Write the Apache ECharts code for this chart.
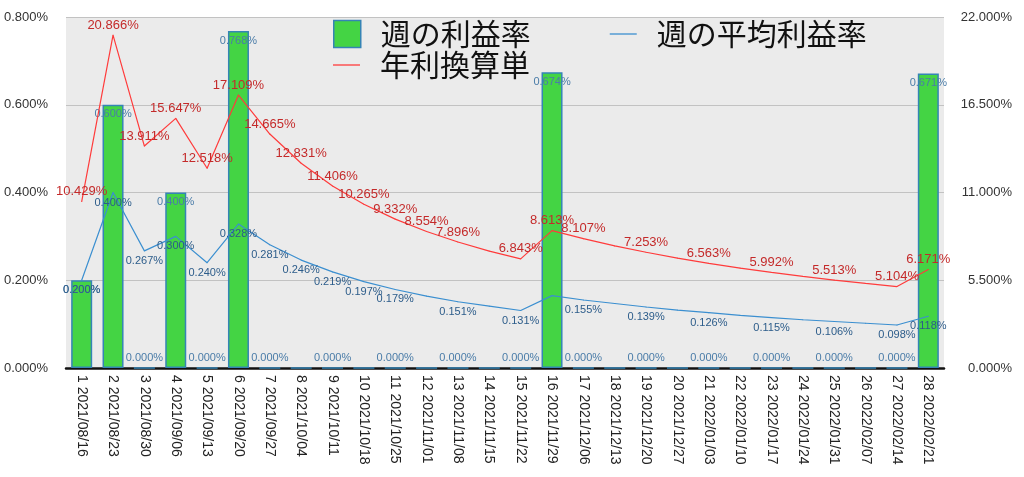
<!DOCTYPE html>
<html>
<head>
<meta charset="utf-8">
<script src="https://cdn.jsdelivr.net/npm/echarts@6/dist/echarts.min.js"></script>
<style>
html,body{margin:0;padding:0;background:#fff;}
#chart{width:1024px;height:477px;}
</style>
</head>
<body>
<div id="chart"></div>
<script>
var categories = ['1 2021/08/16','2 2021/08/23','3 2021/08/30','4 2021/09/06','5 2021/09/13','6 2021/09/20','7 2021/09/27','8 2021/10/04','9 2021/10/11','10 2021/10/18','11 2021/10/25','12 2021/11/01','13 2021/11/08','14 2021/11/15','15 2021/11/22','16 2021/11/29','17 2021/12/06','18 2021/12/13','19 2021/12/20','20 2021/12/27','21 2022/01/03','22 2022/01/10','23 2022/01/17','24 2022/01/24','25 2022/01/31','26 2022/02/07','27 2022/02/14','28 2022/02/21'];
var weeklyRate = [0.200,0.600,0,0.400,0,0.768,0,0,0,0,0,0,0,0,0,0.674,0,0,0,0,0,0,0,0,0,0,0,0.671];
var weeklyAvg = [0.200,0.400,0.267,0.300,0.240,0.328,0.281,0.246,0.219,0.197,0.179,0.164,0.151,0.141,0.131,0.165,0.155,0.147,0.139,0.132,0.126,0.120,0.115,0.110,0.106,0.102,0.098,0.118];
var annualRate = [10.429,20.866,13.911,15.647,12.518,17.109,14.665,12.831,11.406,10.265,9.332,8.554,7.896,7.330,6.843,8.613,8.107,7.650,7.253,6.890,6.563,6.260,5.992,5.740,5.513,5.300,5.104,6.171];
var leftTicks = [0, 0.2, 0.4, 0.6, 0.8];
var rightTicks = [0, 5.5, 11, 16.5, 22];
// categories (1-based) whose value labels are not shown in the reference
var barLabelHidden = [8,10,12,14,18,20,22,24,26];
var avgLabelHidden = [12,14,16,18,20,22,24,26];
var annualLabelHidden = [14,18,20,22,24,26];

var FONT = '"Liberation Sans", Arial, Helvetica, sans-serif';
var CJK = '"Noto Sans CJK JP", "Noto Sans CJK SC", sans-serif';
function pct(v){ return v.toFixed(3) + '%'; }
var LINE_ICON = 'path://M0,0L27,0L27,1.3L0,1.3Z';

var barData = weeklyRate.map(function(v, i){
  var show = barLabelHidden.indexOf(i+1) < 0;
  return {value: v, label: {show: show, position: v > 0 ? 'insideTop' : 'top', distance: 4}};
});
var avgData = weeklyAvg.map(function(v, i){
  return {value: v, label: {show: avgLabelHidden.indexOf(i+1) < 0}};
});
var annualData = annualRate.map(function(v, i){
  return {value: v, label: {show: annualLabelHidden.indexOf(i+1) < 0}};
});

var legendText = {fontSize: 30, lineHeight: 30, color: '#111', fontFamily: CJK, padding: [0, 0, 0, 15]};
var chart = echarts.init(document.getElementById('chart'), null, {renderer: 'canvas'});
chart.setOption({
  animation: false,
  backgroundColor: '#ffffff',
  grid: {left: 66, right: 80, top: 17, bottom: 109, show: true, backgroundColor: '#ebebeb', borderWidth: 0},
  legend: [{
    data: [
      {name: '週の利益率', icon: 'rect', itemStyle: {borderColor: '#3584b5', borderWidth: 1.5}},
      {name: '週の平均利益率', icon: LINE_ICON}
    ],
    left: 333, top: 19, padding: 0, itemGap: 79, itemWidth: 27, itemHeight: 27,
    textStyle: legendText
  },{
    data: [{name: '年利換算単', icon: LINE_ICON}],
    left: 333, top: 50, padding: 0, itemWidth: 27, itemHeight: 27,
    textStyle: legendText
  }],
  xAxis: {
    type: 'category', data: categories, boundaryGap: true,
    axisLine: {show: true, lineStyle: {color: '#111', width: 2.5}},
    axisTick: {show: false},
    axisLabel: {rotate: -90, interval: 0, fontSize: 14, color: '#222', fontFamily: FONT, margin: 7}
  },
  yAxis: [{
    type: 'value', min: leftTicks[0], max: leftTicks[leftTicks.length-1], interval: leftTicks[1]-leftTicks[0],
    axisLine: {show: false}, axisTick: {show: false},
    axisLabel: {formatter: pct, fontSize: 13, color: '#333', fontFamily: FONT, margin: 18},
    splitLine: {show: true, lineStyle: {color: '#c2c2c2', width: 1.2}}
  },{
    type: 'value', min: rightTicks[0], max: rightTicks[rightTicks.length-1], interval: rightTicks[1]-rightTicks[0],
    position: 'right',
    axisLine: {show: false}, axisTick: {show: false},
    axisLabel: {formatter: pct, fontSize: 13, color: '#333', fontFamily: FONT, margin: 68, align: 'right'},
    splitLine: {show: false}
  }],
  series: [{
    name: '週の利益率', type: 'bar', yAxisIndex: 0, data: barData, barWidth: '67%',
    itemStyle: {color: '#44d444', borderColor: '#3584b5', borderWidth: 1.5},
    label: {formatter: function(p){ return pct(p.value); }, fontSize: 11, color: '#4a7ca8', fontFamily: FONT},
    z: 1
  },{
    name: '週の平均利益率', type: 'line', yAxisIndex: 0, data: avgData,
    symbol: 'circle', symbolSize: 1, showSymbol: true,
    lineStyle: {color: '#3b8fd0', width: 1.2}, itemStyle: {color: '#3b8fd0'},
    label: {position: 'bottom', distance: 4, formatter: function(p){ return pct(p.value); }, fontSize: 11, color: '#2c5c8a', fontFamily: FONT},
    z: 3
  },{
    name: '年利換算単', type: 'line', yAxisIndex: 1, data: annualData,
    symbol: 'circle', symbolSize: 1, showSymbol: true,
    lineStyle: {color: '#ff3b3b', width: 1.2}, itemStyle: {color: '#ff3b3b'},
    label: {position: 'top', distance: 3, formatter: function(p){ return pct(p.value); }, fontSize: 13, color: '#c42a2a', fontFamily: FONT},
    z: 4
  }]
});
</script>
</body>
</html>
